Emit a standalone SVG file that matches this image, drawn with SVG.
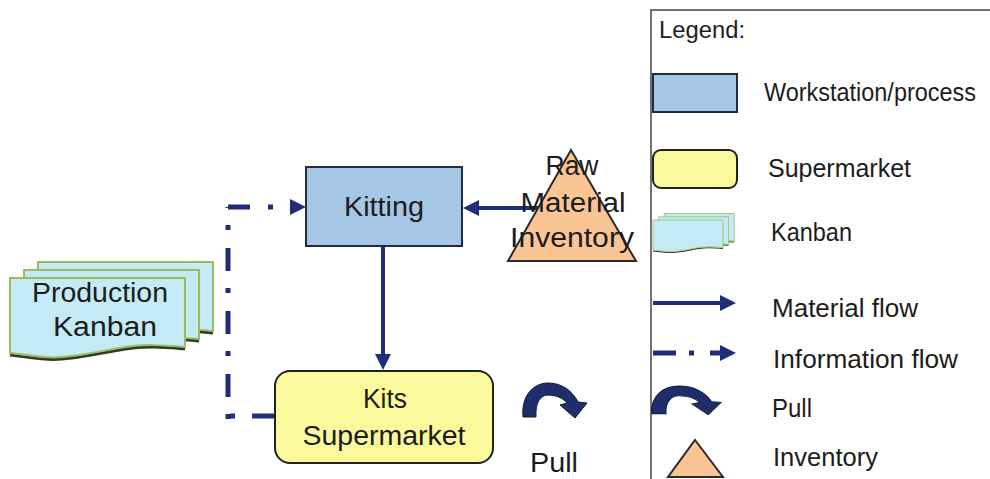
<svg xmlns="http://www.w3.org/2000/svg" xmlns:xlink="http://www.w3.org/1999/xlink" width="990" height="479" viewBox="0 0 990 479">
<style>
  text { font-family: "Liberation Sans", Arial, sans-serif; fill: #1c1c1c; }
  .lbl { font-size: 27px; text-anchor: middle; }
  .leg { font-size: 26px; }
  .proc { fill: #a6c6e6; stroke: #1f2a44; stroke-width: 2; }
  .sm { fill: #fafa9c; stroke: #222; stroke-width: 2; }
  .inv { fill: #fac594; stroke: #2a2a2a; stroke-width: 2; }
  .sheet { fill: #c4ebf5; stroke: #9bbb59; stroke-width: 2; }
  .shadow { fill: none; stroke: #2f3a2a; stroke-width: 3; }
  .mat { fill: none; stroke: #1f2d7a; stroke-width: 4; }
  .info { fill: none; stroke: #1f2d7a; stroke-width: 5; }
  .pull { fill: #1f2d6b; stroke: #111a40; stroke-width: 1; }
</style>
<defs>
  <marker id="ah" markerUnits="userSpaceOnUse" markerWidth="16" markerHeight="16" refX="6" refY="8" orient="auto">
    <path d="M0 0 L16 8 L0 16 Z" fill="#1f2d7a"/>
  </marker>
  <path id="sheetShape" d="M0 0 H175 V69 C150 67 135 66 115 69 C80 75 55 81 35 79 C20 78 8 76 0 75 Z"/>
  <path id="sheetBottom" d="M0 77 C8 78 20 80 35 81 C55 83 80 77 115 71 C135 68 150 69 175 71"/>
  <g id="kanbanStack">
    <use href="#sheetBottom" class="shadow" transform="translate(38,262)"/>
    <use href="#sheetShape" class="sheet" transform="translate(38,262)"/>
    <use href="#sheetBottom" class="shadow" transform="translate(24,270)"/>
    <use href="#sheetShape" class="sheet" transform="translate(24,270)"/>
    <use href="#sheetBottom" class="shadow" transform="translate(10,278)"/>
    <use href="#sheetShape" class="sheet" transform="translate(10,278)"/>
  </g>
  <path id="pullShape" d="M0 34 C-2 12 11 0 25 0 C38 0 49 7 55 19 L64 20 L52 35 L37 22 L44 20 C40 15 33 12 25 12 C18 12 12 19 13 34 Z"/>
</defs>

<g id="connectors">
  <path class="mat" d="M540 208 H473" marker-end="url(#ah)"/>
  <path class="mat" d="M383 247 V360" marker-end="url(#ah)"/>
  <path class="info" d="M275 416 H228" stroke-dasharray="23 17 5 100"/>
  <path class="info" d="M228 419 V207" stroke-dasharray="5 17 23 18"/>
  <path class="info" d="M228 207 H296" stroke-dasharray="22 18 5 100" marker-end="url(#ah)"/>
</g>

<g id="kitting">
  <rect class="proc" x="306" y="167" width="156" height="79"/>
  <text class="lbl" x="384" y="216" textLength="80" lengthAdjust="spacingAndGlyphs">Kitting</text>
</g>

<g id="raw-material-inventory">
  <polygon class="inv" points="571,150 636,261 508,261"/>
  <text class="lbl" x="572" y="175" textLength="53" lengthAdjust="spacingAndGlyphs">Raw</text>
  <text class="lbl" x="573" y="212" textLength="105" lengthAdjust="spacingAndGlyphs">Material</text>
  <text class="lbl" x="572" y="247" textLength="124" lengthAdjust="spacingAndGlyphs">Inventory</text>
</g>

<g id="kits-supermarket">
  <rect class="sm" x="275" y="371" width="218" height="92" rx="15"/>
  <text class="lbl" x="385" y="408" textLength="44" lengthAdjust="spacingAndGlyphs">Kits</text>
  <text class="lbl" x="384" y="445" textLength="163" lengthAdjust="spacingAndGlyphs">Supermarket</text>
</g>

<g id="production-kanban">
  <use href="#kanbanStack"/>
  <text class="lbl" x="100" y="302" textLength="136" lengthAdjust="spacingAndGlyphs">Production</text>
  <text class="lbl" x="105" y="336" textLength="104" lengthAdjust="spacingAndGlyphs">Kanban</text>
</g>

<g id="pull">
  <use href="#pullShape" class="pull" transform="translate(523,383)"/>
  <text class="lbl" x="554" y="472" textLength="48" lengthAdjust="spacingAndGlyphs">Pull</text>
</g>

<g id="legend">
  <path d="M651 479 V10 H990" fill="none" stroke="#444" stroke-width="1.5"/>
  <text x="659" y="38" style="font-size:23px" textLength="86" lengthAdjust="spacingAndGlyphs">Legend:</text>
  <rect class="proc" x="653" y="74" width="84" height="38"/>
  <text class="leg" x="764" y="101" style="font-size:25px" textLength="212" lengthAdjust="spacingAndGlyphs">Workstation/process</text>
  <rect class="sm" x="653" y="150" width="84" height="38" rx="8"/>
  <text class="leg" x="768" y="177" textLength="143" lengthAdjust="spacingAndGlyphs">Supermarket</text>
  <use href="#kanbanStack" transform="translate(649,108.8) scale(0.4)"/>
  <text class="leg" x="771" y="241" textLength="81" lengthAdjust="spacingAndGlyphs">Kanban</text>
  <path class="mat" d="M653 303 H726" marker-end="url(#ah)"/>
  <text class="leg" x="772" y="317" textLength="146" lengthAdjust="spacingAndGlyphs">Material flow</text>
  <path class="info" d="M653 353 H726" stroke-dasharray="23 13 5 16 40" marker-end="url(#ah)"/>
  <text class="leg" x="773" y="368" textLength="185" lengthAdjust="spacingAndGlyphs">Information flow</text>
  <use href="#pullShape" class="pull" transform="translate(652,386) scale(1.08,0.82)"/>
  <text class="leg" x="772" y="417" textLength="40" lengthAdjust="spacingAndGlyphs">Pull</text>
  <polygon class="inv" points="695,440 723,477 668,477"/>
  <text class="leg" x="773" y="466" textLength="105" lengthAdjust="spacingAndGlyphs">Inventory</text>
</g>
</svg>
